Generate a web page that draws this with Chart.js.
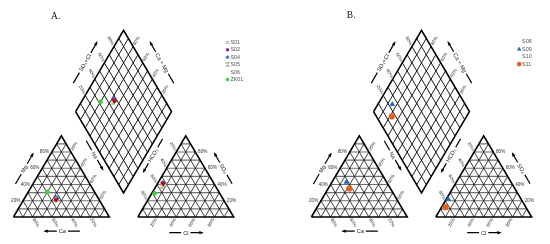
<!DOCTYPE html>
<html><head><meta charset="utf-8">
<script src="https://cdn.jsdelivr.net/npm/chart.js@4.4.1/dist/chart.umd.min.js"></script>
<style>html,body{margin:0;padding:0;background:#fff;overflow:hidden}canvas{display:block}</style>
</head><body>
<canvas id="c" width="550" height="244"></canvas>
<script>
// ---------------- data (milliequivalent percentages) ----------------
const panelTitles = ['A.', 'B.'];
const tickValues = [20, 40, 60, 80];

const samplesA = ['S01', 'S02', 'S04', 'S05', 'S06', 'ZK01'];
const caA   = [44, 44, 43, 45, 45, 49];
const mgA   = [22, 24, 23, 22, 21, 31];
const naA   = [34, 32, 34, 33, 34, 20];
const hco3A = [52, 53, 53, 56, 53, 68];
const so4A  = [40, 42, 41, 38, 41, 29];
const clA   = [8, 5, 6, 6, 6, 3];

const samplesB = ['S09', 'S11'];
const caB   = [42, 43];
const mgB   = [43, 35];
const naB   = [15, 22];
const hco3B = [76, 84];
const so4B  = [22, 12];
const clB   = [2, 4];

const legendA = ['S01', 'S02', 'S04', 'S05', 'S06', 'ZK01'];
const legendB = ['S08', 'S09', 'S10', 'S11'];

// ---------------- styles ----------------
const hourglass = (() => {
  const c = document.createElement('canvas'); c.width = 5; c.height = 5;
  const g = c.getContext('2d');
  g.fillStyle = '#dcd3aa'; g.strokeStyle = '#a09670'; g.lineWidth = 0.6;
  g.beginPath(); g.moveTo(0.5, 0.5); g.lineTo(4.5, 0.5); g.lineTo(0.5, 4.5); g.lineTo(4.5, 4.5); g.closePath();
  g.fill(); g.stroke();
  return c;
})();
const styles = {
  S01: {pointStyle: 'rect', r: 2.2, bg: '#ffffff', bd: '#8a8a8a', bw: 0.6, rot: 0},
  S02: {pointStyle: 'circle', r: 2.0, bg: '#7030a0', bd: '#7030a0', bw: 0.5, rot: 0},
  S04: {pointStyle: 'rectRot', r: 2.4, bg: '#2e75b6', bd: '#2e75b6', bw: 0.5, rot: 0},
  S05: {pointStyle: hourglass, r: 2.5, bg: '#dcd3aa', bd: '#a09670', bw: 0.5, rot: 0},
  S06: {pointStyle: 'triangle', r: 2.6, bg: '#c00000', bd: '#c00000', bw: 0.5, rot: 180},
  ZK01:{pointStyle: 'circle', r: 2.1, bg: '#3ad13a', bd: '#3ad13a', bw: 0.5, rot: 0},
  S09: {pointStyle: 'triangle', r: 2.8, bg: '#1f5fbf', bd: '#1f5fbf', bw: 0.5, rot: 0},
  S11: {pointStyle: 'circle', r: 2.9, bg: '#e0621e', bd: '#e0621e', bw: 0.5, rot: 0}
};
const legendHidden = {S06: true, S08: true, S10: true};

// ---------------- geometry ----------------
const S = 97.5, H = S * Math.sqrt(3) / 2, BASE = 220.7, GAP = 29;
const PANEL_X = [0, 303];
const LEGEND_X = [226.7, 523.3], LEGEND_Y = [39.3, 38.7], LEGEND_STEP = 7.7;
const TITLE_POS = [[52, 12.7], [352.5, 11.8]];

function geom(ox) {
  const lA = [ox + 9, BASE], lB = [ox + 9 + S, BASE], lC = [ox + 9 + S / 2, BASE - H];
  const rA = [lB[0] + GAP, BASE], rB = [rA[0] + S, BASE], rC = [rA[0] + S / 2, BASE - H];
  const dB = [lB[0] + GAP / 2, BASE - GAP * Math.sqrt(3) / 2];
  const dL = [dB[0] - S / 2, dB[1] - H], dT = [dB[0], dB[1] - 2 * H], dR = [dB[0] + S / 2, dB[1] - H];
  return {lA, lB, lC, rA, rB, rC, dB, dL, dT, dR};
}
const lerp = (P, Q, t) => [P[0] + (Q[0] - P[0]) * t, P[1] + (Q[1] - P[1]) * t];
const add = (P, Q) => [P[0] + Q[0], P[1] + Q[1]];
const sub = (P, Q) => [P[0] - Q[0], P[1] - Q[1]];
const mul = (P, k) => [P[0] * k, P[1] * k];
const tern = (A, B, C, a, b, c) => {
  const s = a + b + c; a /= s; b /= s; c /= s;
  return [a * A[0] + b * B[0] + c * C[0], a * A[1] + b * B[1] + c * C[1]];
};
const diamondPt = (g, anionSum, cat) =>
  add(add(g.dL, mul(sub(g.dT, g.dL), anionSum / 100)), mul(sub(g.dB, g.dL), cat / 100));

// ---------------- build line datasets ----------------
const gridH = [], gridD = [], gridDia = [], outline = [];
const GAPPT = {x: null, y: null};
const seg = (arr, P, Q) => { arr.push({x: P[0], y: P[1]}, {x: Q[0], y: Q[1]}, GAPPT); };
const poly = (arr, pts) => { pts.concat([pts[0]]).forEach(p => arr.push({x: p[0], y: p[1]})); arr.push(GAPPT); };

PANEL_X.forEach(ox => {
  const g = geom(ox);
  [[g.lA, g.lB, g.lC], [g.rA, g.rB, g.rC]].forEach(([A, B, C]) => {
    for (let i = 1; i < 10; i++) {
      const t = i / 10;
      seg(gridH, lerp(A, C, t), lerp(B, C, t));
      seg(gridD, lerp(B, A, t), lerp(C, A, t));
      seg(gridD, lerp(A, B, t), lerp(C, B, t));
    }
    poly(outline, [A, B, C]);
  });
  const TL = sub(g.dT, g.dL), BL = sub(g.dB, g.dL);
  for (let i = 1; i < 10; i++) {
    const t = i / 10;
    const p1 = add(g.dL, mul(TL, t));
    seg(gridDia, p1, add(p1, BL));
    const p2 = add(g.dL, mul(BL, t));
    seg(gridDia, p2, add(p2, TL));
  }
  poly(outline, [g.dL, g.dB, g.dR, g.dT]);
});

const pointDatasets = [];
function addSamples(panel, names, ca, mg, na, hco3, so4, cl) {
  const g = geom(PANEL_X[panel]);
  names.forEach((n, i) => {
    const st = styles[n];
    const pc = tern(g.lA, g.lB, g.lC, ca[i], na[i], mg[i]);
    const pa = tern(g.rA, g.rB, g.rC, hco3[i], cl[i], so4[i]);
    const pd = diamondPt(g, so4[i] + cl[i], na[i]);
    pointDatasets.push({
      label: n, data: [pc, pa, pd].map(p => ({x: p[0], y: p[1]})),
      showLine: false, pointStyle: st.pointStyle, pointRadius: st.r,
      pointBackgroundColor: st.bg, pointBorderColor: st.bd, pointBorderWidth: st.bw,
      pointRotation: st.rot, order: 1
    });
  });
}
addSamples(0, samplesA, caA, mgA, naA, hco3A, so4A, clA);
addSamples(1, samplesB, caB, mgB, naB, hco3B, so4B, clB);
pointDatasets.reverse();
pointDatasets.forEach((d, i) => d.order = 1 + i * 0.01);

const lineDs = (data, color, width, order) => ({
  data, showLine: true, borderColor: color, borderWidth: width, pointRadius: 0,
  fill: false, tension: 0, spanGaps: false, order, borderCapStyle: 'butt', borderJoinStyle: 'miter'
});

// ---------------- overlay: text, arrows, legends ----------------
const FONT_TICK = "4.6px 'Liberation Sans', Arial, sans-serif";
const FONT_AXIS = "5.6px 'Liberation Sans', Arial, sans-serif";
const FONT_LEG = "5.4px 'Liberation Sans', Arial, sans-serif";
const FONT_TITLE = "9.5px 'Liberation Serif', 'Times New Roman', serif";
const D60 = Math.PI / 3;

const overlay = {
  id: 'overlay',
  afterDraw(chart) {
    const ctx = chart.ctx, sx = chart.scales.x, sy = chart.scales.y;
    const P = p => [sx.getPixelForValue(p[0]), sy.getPixelForValue(p[1])];
    const txt = (p, s, ang, align, font, color) => {
      const q = P(p);
      ctx.save(); ctx.translate(q[0], q[1]); ctx.rotate(ang);
      ctx.font = font; ctx.fillStyle = color; ctx.textAlign = align; ctx.textBaseline = 'middle';
      ctx.fillText(s, 0, 0); ctx.restore();
    };
    const arrowTitle = (c, ang, len, s, headAtPlus) => {
      const q = P(c);
      ctx.save(); ctx.translate(q[0], q[1]); ctx.rotate(ang);
      ctx.font = FONT_AXIS; const tw = ctx.measureText(s).width;
      ctx.fillStyle = '#222'; ctx.textAlign = 'center'; ctx.textBaseline = 'middle';
      ctx.fillText(s, 0, 0.3);
      ctx.strokeStyle = '#000'; ctx.lineWidth = 1.2;
      const h = len / 2, gp = tw / 2 + 2;
      ctx.beginPath(); ctx.moveTo(-h, 0); ctx.lineTo(-gp, 0); ctx.moveTo(gp, 0); ctx.lineTo(h, 0); ctx.stroke();
      const e = headAtPlus ? h : -h, dir = headAtPlus ? 1 : -1;
      ctx.fillStyle = '#000'; ctx.beginPath();
      ctx.moveTo(e + dir * 1.5, 0); ctx.lineTo(e - dir * 3, -1.6); ctx.lineTo(e - dir * 3, 1.6); ctx.closePath(); ctx.fill();
      ctx.restore();
    };
    const U = a => [Math.cos(a), Math.sin(a)];

    PANEL_X.forEach((ox, pi) => {
      const g = geom(ox);
      const TC = '#333';
      tickValues.forEach(v => {
        const t = v / 100, lab = v + '%';
        let p = lerp(g.lA, g.lC, t);
        txt([p[0] - 2.8, p[1]], lab, 0, 'right', FONT_TICK, TC);
        p = lerp(g.lA, g.lB, 1 - t);
        txt(add(p, mul(U(D60), 2)), lab, D60, 'left', FONT_TICK, TC);
        p = lerp(g.lC, g.lB, t);
        txt(add(p, mul(U(-D60), 2)), lab, -D60, 'left', FONT_TICK, TC);
        p = lerp(g.rB, g.rC, t);
        txt([p[0] + 2.8, p[1]], lab, 0, 'left', FONT_TICK, TC);
        p = lerp(g.rA, g.rB, t);
        txt(add(p, mul(U(-D60), -2)), lab, -D60, 'right', FONT_TICK, TC);
        p = lerp(g.rC, g.rA, t);
        txt(add(p, mul(U(D60), -2)), lab, D60, 'right', FONT_TICK, TC);
        p = lerp(g.dL, g.dT, t);
        txt(add(p, mul(U(D60), -2)), lab, D60, 'right', FONT_TICK, TC);
        p = add(g.dT, mul(sub(g.dB, g.dL), 1 - t));
        txt(add(p, mul(U(-D60), 2)), lab, -D60, 'left', FONT_TICK, TC);
      });
      const nUL = [-Math.sqrt(3) / 2, -0.5], nUR = [Math.sqrt(3) / 2, -0.5];
      const nLL = [-Math.sqrt(3) / 2, 0.5], nLR = [Math.sqrt(3) / 2, 0.5];
      arrowTitle(add(lerp(g.dL, g.dT, 0.5), mul(nUL, 17)), -D60, 47, 'SO\u2084+Cl', true);
      arrowTitle(add(lerp(g.dT, g.dR, 0.5), mul(nUR, 17)), D60, 47, 'Ca + Mg', false);
      arrowTitle(add(lerp(g.dL, g.dB, 0.5), mul(nLL, 6)), D60, 33, 'Na', true);
      arrowTitle(add(lerp(g.dB, g.dR, 0.5), mul(nLR, 6.5)), -D60, 38, 'HCO\u2083', false);
      arrowTitle(add(lerp(g.lA, g.lC, 0.5), mul(nUL, 15.5)), -D60, 35, 'Mg', true);
      arrowTitle(add(lerp(g.rB, g.rC, 0.5), mul(nUR, 16)), D60, 35, 'SO\u2084', false);
      arrowTitle([g.lA[0] + S / 2 + 1, BASE + 14.8], 0, 35, 'Ca', false);
      arrowTitle([g.rA[0] + S / 2, BASE + 16.3], 0, 33, 'Cl', true);

      txt(TITLE_POS[pi], panelTitles[pi], 0, 'center', FONT_TITLE, '#111');

      const names = pi === 0 ? legendA : legendB;
      names.forEach((n, k) => {
        const y = LEGEND_Y[pi] + k * LEGEND_STEP, x = LEGEND_X[pi];
        const st = styles[n];
        if (st && !legendHidden[n]) {
          const q = P([x, y]);
          ctx.save();
          ctx.fillStyle = st.bg; ctx.strokeStyle = st.bd; ctx.lineWidth = st.bw;
          if (Chart.helpers && Chart.helpers.drawPoint) {
            Chart.helpers.drawPoint(ctx, {pointStyle: st.pointStyle, radius: st.r * 0.75, rotation: st.rot, borderWidth: st.bw}, q[0], q[1]);
          } else {
            ctx.beginPath(); ctx.arc(q[0], q[1], st.r * 0.75, 0, Math.PI * 2); ctx.fill(); ctx.stroke();
          }
          ctx.restore();
        }
        txt([x + 3, y], n, 0, 'left', FONT_LEG, '#555');
      });
    });
  }
};

new Chart(document.getElementById('c'), {
  type: 'scatter',
  data: {
    datasets: pointDatasets.concat([
      lineDs(outline, '#000', 1.6, 5),
      lineDs(gridDia, '#000', 0.9, 6),
      lineDs(gridD, '#111', 0.8, 7),
      lineDs(gridH, '#707070', 1.2, 8)
    ])
  },
  options: {
    responsive: false, animation: false, devicePixelRatio: 1, events: [],
    layout: {padding: 0},
    plugins: {legend: {display: false}, tooltip: {enabled: false}},
    scales: {
      x: {type: 'linear', min: 0, max: 550, display: false},
      y: {type: 'linear', min: 0, max: 244, reverse: true, display: false}
    }
  },
  plugins: [overlay]
});
</script>
</body></html>
